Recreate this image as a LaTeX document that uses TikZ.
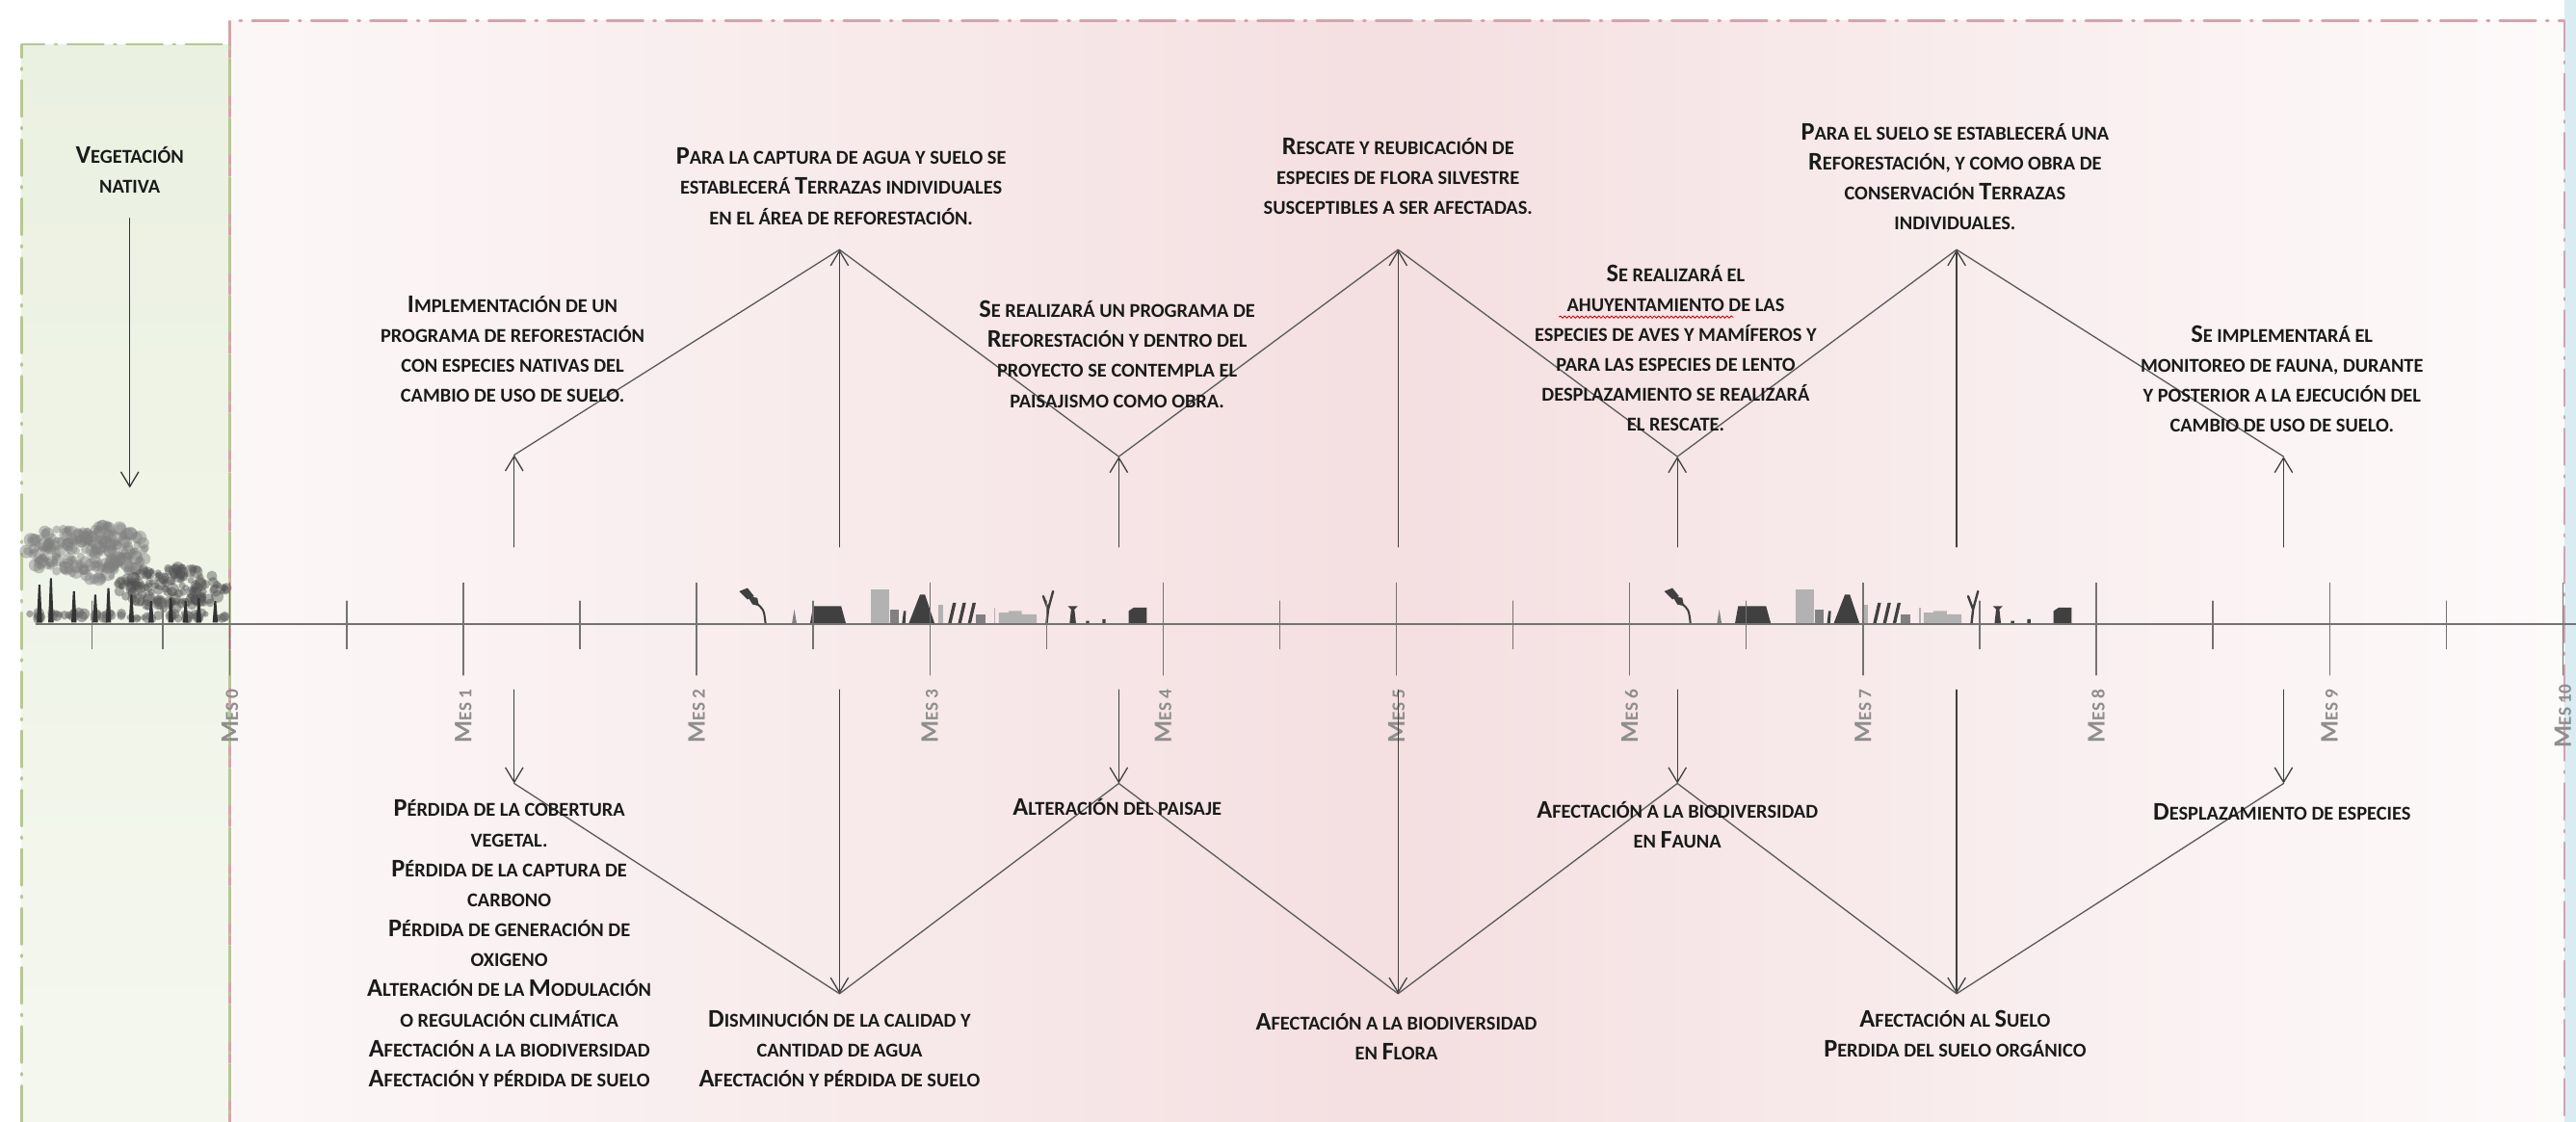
\documentclass[tikz,border=0pt]{standalone}
\usepackage{fontspec}
\setmainfont{Carlito}
\usetikzlibrary{arrows.meta,decorations.pathmorphing}

\definecolor{ink}{HTML}{1A1A1A}
\definecolor{rosa}{HTML}{F4DFE1}
\definecolor{rosaborde}{HTML}{D8A2AA}
\definecolor{verde}{HTML}{EBF1E1}
\definecolor{verdeborde}{HTML}{B5C98F}
\definecolor{cielo}{HTML}{D9ECF2}
\definecolor{gris}{HTML}{8E8E8E}

\newcommand{\capl}[1]{{\fontsize{22}{26}\selectfont #1}}

\tikzset{
  note/.style={font=\fontsize{17}{26}\selectfont\bfseries, align=center, inner sep=0pt, text=ink, anchor=north},
  meslabel/.style={font=\fontsize{16}{20}\selectfont\bfseries, text=gris, rotate=90, inner sep=0pt},
  borde/.style={line width=0.8mm, dash pattern=on 11mm off 3.2mm on 0.6mm off 3.2mm},
  zig/.style={draw=black!65, line width=0.38mm},
  arr/.style={draw=black!75, line width=0.38mm, -{Straight Barb[length=4.5mm,width=5.4mm]}},
  mtick/.style={draw=black!55, line width=0.4mm},
  oscuro/.style={fill=black!75},
  medio/.style={fill=black!50},
  claro/.style={fill=black!30},
  skyline/.pic={
    \fill[oscuro] (0,-20) -- (5,-22) -- (9,-17) -- (5,-15) -- cycle;
    \fill[oscuro] (5,-17) -- (11,-16) -- (12,-11) -- (8,-12) -- cycle;
    \draw[black!75, line width=0.6mm] (10,-13) .. controls (15,-9) .. (16,0);
    \fill[medio] (32,0) -- (33.5,-9) -- (35,0) -- cycle;
    \fill[oscuro] (43,0) -- (45,-11) -- (62,-11) -- (65,0) -- cycle;
    \fill[claro] (80,0) rectangle (91,-21);
    \fill[medio] (92,0) rectangle (97,-9);
    \fill[oscuro] (99,0) -- (100,-8) -- (101.5,-8) -- (101,0) -- cycle;
    \fill[oscuro] (103,0) -- (110,-18) -- (113,-18) -- (119,0) -- cycle;
    \fill[claro] (121,0) rectangle (124,-12);
    \foreach \s in {127,133,139}
      \fill[oscuro] (\s,0) -- (\s+3,-13) -- (\s+5,-13) -- (\s+2,0) -- cycle;
    \fill[medio] (144,0) rectangle (150,-6);
    \fill[claro] (155,0) rectangle (156,-10);
    \fill[claro] (158,0) -- (158,-7) -- (164,-7) -- (164,-8) -- (172,-8) -- (172,-6) -- (181,-6) -- (181,0) -- cycle;
    \draw[black!75, line width=0.7mm] (187,0) -- (188,-9) -- (185,-17) (188,-9) -- (191,-20);
    \fill[oscuro] (201,0) -- (202,-9) -- (200,-11) -- (206,-11) -- (204,-9) -- (205,0) -- cycle;
    \fill[oscuro] (211,0) rectangle (213,-2) (221,0) rectangle (223,-3);
    \fill[oscuro] (237,0) -- (237,-8) -- (240,-10) -- (248,-10) -- (248,0) -- cycle;
  }
}

\begin{document}
\begin{tikzpicture}[x=0.5mm,y=-0.5mm,line join=round,line cap=round]
  \useasboundingbox (0,0) rectangle (1568,683);
  \clip (0,0) rectangle (1568,683);

  % fondos
  \fill[white] (0,0) rectangle (1568,683);
  \shade[top color=verde, bottom color=verde!55!white] (13,27) rectangle (140,683);
  \shade[left color=rosa!25!white, right color=rosa!15!white, middle color=rosa] (140,12.5) rectangle (1561,683);
  \fill[cielo] (1561,0) rectangle (1568,683);

  \draw[borde, rosaborde] (140,683) -- (140,12.5) -- (1561,12.5) -- (1561,683);
  \draw[borde, verdeborde] (13,683) -- (13,27) -- (140,27) -- (140,683);

  % arboles
  \pgfmathsetseed{21}
  \foreach \i in {1,...,220}{
    \pgfmathsetmacro{\a}{rnd*360}
    \pgfmathsetmacro{\d}{sqrt(rnd)}
    \fill[black!50, opacity=0.45] ({53+38*\d*cos(\a)},{336+17*\d*sin(\a)}) circle[radius=1.8+2.6*rnd];
  }
  \foreach \i in {1,...,140}{
    \pgfmathsetmacro{\a}{rnd*360}
    \pgfmathsetmacro{\d}{sqrt(rnd)}
    \fill[black!68, opacity=0.45] ({104+34*\d*cos(\a)},{358+13*\d*sin(\a)}) circle[radius=1.8+2.2*rnd];
  }
  \foreach \i in {1,...,60}{
    \pgfmathsetmacro{\x}{17+121*rnd}
    \fill[black!60, opacity=0.55] (\x,{373+4*rnd}) circle[radius=1.5+2*rnd];
  }
  \foreach \x/\h in {24/356,31/352,45/360,58/362,66/358,80/362,92/366,104/364,113/366,121/364,131/366}
    \fill[black!80] (\x-1.6,379) -- (\x-0.6,\h) -- (\x+0.6,\h) -- (\x+1.6,379) -- cycle;

  \pic at (450,380) {skyline};
  \pic at (1013,380) {skyline};

  % eje de tiempo
  \draw[draw=black!55, line width=0.45mm] (22,380) -- (1568,380);
  \foreach \k in {0,...,10}
    \draw[mtick] (140+142*\k,355) -- (140+142*\k,411);
  \foreach \k in {0,...,9}
    \draw[mtick] (211+142*\k,366) -- (211+142*\k,395);
  \foreach \x in {56,99}
    \draw[mtick] (\x,366) -- (\x,395);
  \foreach \k in {0,...,10}
    \node[meslabel] (mes\k) at (140+142*\k,436) {\capl{M}ES \k};

  % medidas (arriba) e impactos (abajo)
  \foreach \n/\x/\y in {1/313/277,2/511/152,3/681/278,4/851/152,5/1021/278,6/1191/152,7/1390/278}{
    \coordinate (t\n) at (\x,\y);
    \coordinate (ts\n) at (\x,333);
  }
  \foreach \n/\x/\y in {1/313/477,2/511/605,3/681/477,4/851/605,5/1021/477,6/1191/605,7/1390/477}{
    \coordinate (b\n) at (\x,\y);
    \coordinate (bs\n) at (\x,420);
  }
  \draw[zig] (t1) \foreach \n in {2,...,7}{ -- (t\n)};
  \draw[zig] (b1) \foreach \n in {2,...,7}{ -- (b\n)};
  \foreach \n in {1,...,7}{
    \draw[arr] (ts\n) -- (t\n);
    \draw[arr] (bs\n) -- (b\n);
  }

  \coordinate (vegtop) at (79,133);
  \coordinate (vegtip) at (79,297);
  \draw[arr, draw=black!80] (vegtop) -- (vegtip);

  \node[note] (veg) at (79,89) {\capl{V}EGETACIÓN\\NATIVA};
  \node[note] (impl) at (312,180) {\capl{I}MPLEMENTACIÓN DE UN\\PROGRAMA DE REFORESTACIÓN\\CON ESPECIES NATIVAS DEL\\CAMBIO DE USO DE SUELO.};
  \node[note] (captura) at (512,90) {\capl{P}ARA LA CAPTURA DE AGUA Y SUELO SE\\ESTABLECERÁ \capl{T}ERRAZAS INDIVIDUALES\\EN EL ÁREA DE REFORESTACIÓN.};
  \node[note] (refo) at (680,183) {\capl{S}E REALIZARÁ UN PROGRAMA DE\\\capl{R}EFORESTACIÓN Y DENTRO DEL\\PROYECTO SE CONTEMPLA EL\\PAISAJISMO COMO OBRA.};
  \node[note] (rescate) at (851,84) {\capl{R}ESCATE Y REUBICACIÓN DE\\ESPECIES DE FLORA SILVESTRE\\SUSCEPTIBLES A SER AFECTADAS.};
  \node[note] (ahuy) at (1020,161) {\capl{S}E REALIZARÁ EL\\AHUYENTAMIENTO DE LAS\\ESPECIES DE AVES Y MAMÍFEROS Y\\PARA LAS ESPECIES DE LENTO\\DESPLAZAMIENTO SE REALIZARÁ\\EL RESCATE.};
  \node[note] (suelo) at (1190,75) {\capl{P}ARA EL SUELO SE ESTABLECERÁ UNA\\\capl{R}EFORESTACIÓN, Y COMO OBRA DE\\CONSERVACIÓN \capl{T}ERRAZAS\\INDIVIDUALES.};
  \node[note] (monit) at (1389,198) {\capl{S}E IMPLEMENTARÁ EL\\MONITOREO DE FAUNA, DURANTE\\Y POSTERIOR A LA EJECUCIÓN DEL\\CAMBIO DE USO DE SUELO.};

  \node[note] (perdida) at (310,487) {\capl{P}ÉRDIDA DE LA COBERTURA\\VEGETAL.\\\capl{P}ÉRDIDA DE LA CAPTURA DE\\CARBONO\\\capl{P}ÉRDIDA DE GENERACIÓN DE\\OXIGENO\\\capl{A}LTERACIÓN DE LA \capl{M}ODULACIÓN\\O REGULACIÓN CLIMÁTICA\\\capl{A}FECTACIÓN A LA BIODIVERSIDAD\\\capl{A}FECTACIÓN Y PÉRDIDA DE SUELO};
  \node[note] (paisaje) at (680,486) {\capl{A}LTERACIÓN DEL PAISAJE};
  \node[note] (agua) at (511,615) {\capl{D}ISMINUCIÓN DE LA CALIDAD Y\\CANTIDAD DE AGUA\\\capl{A}FECTACIÓN Y PÉRDIDA DE SUELO};
  \node[note] (flora) at (850,617) {\capl{A}FECTACIÓN A LA BIODIVERSIDAD\\EN \capl{F}LORA};
  \node[note] (fauna) at (1021,488) {\capl{A}FECTACIÓN A LA BIODIVERSIDAD\\EN \capl{F}AUNA};
  \node[note] (organico) at (1190,615) {\capl{A}FECTACIÓN AL \capl{S}UELO\\\capl{P}ERDIDA DEL SUELO ORGÁNICO};
  \node[note] (despl) at (1389,489) {\capl{D}ESPLAZAMIENTO DE ESPECIES};

  \draw[red!85!black, line width=0.25mm, decorate, decoration={snake, amplitude=0.35mm, segment length=1.3mm}] (949,193) -- (1055,193);
\end{tikzpicture}
\end{document}
